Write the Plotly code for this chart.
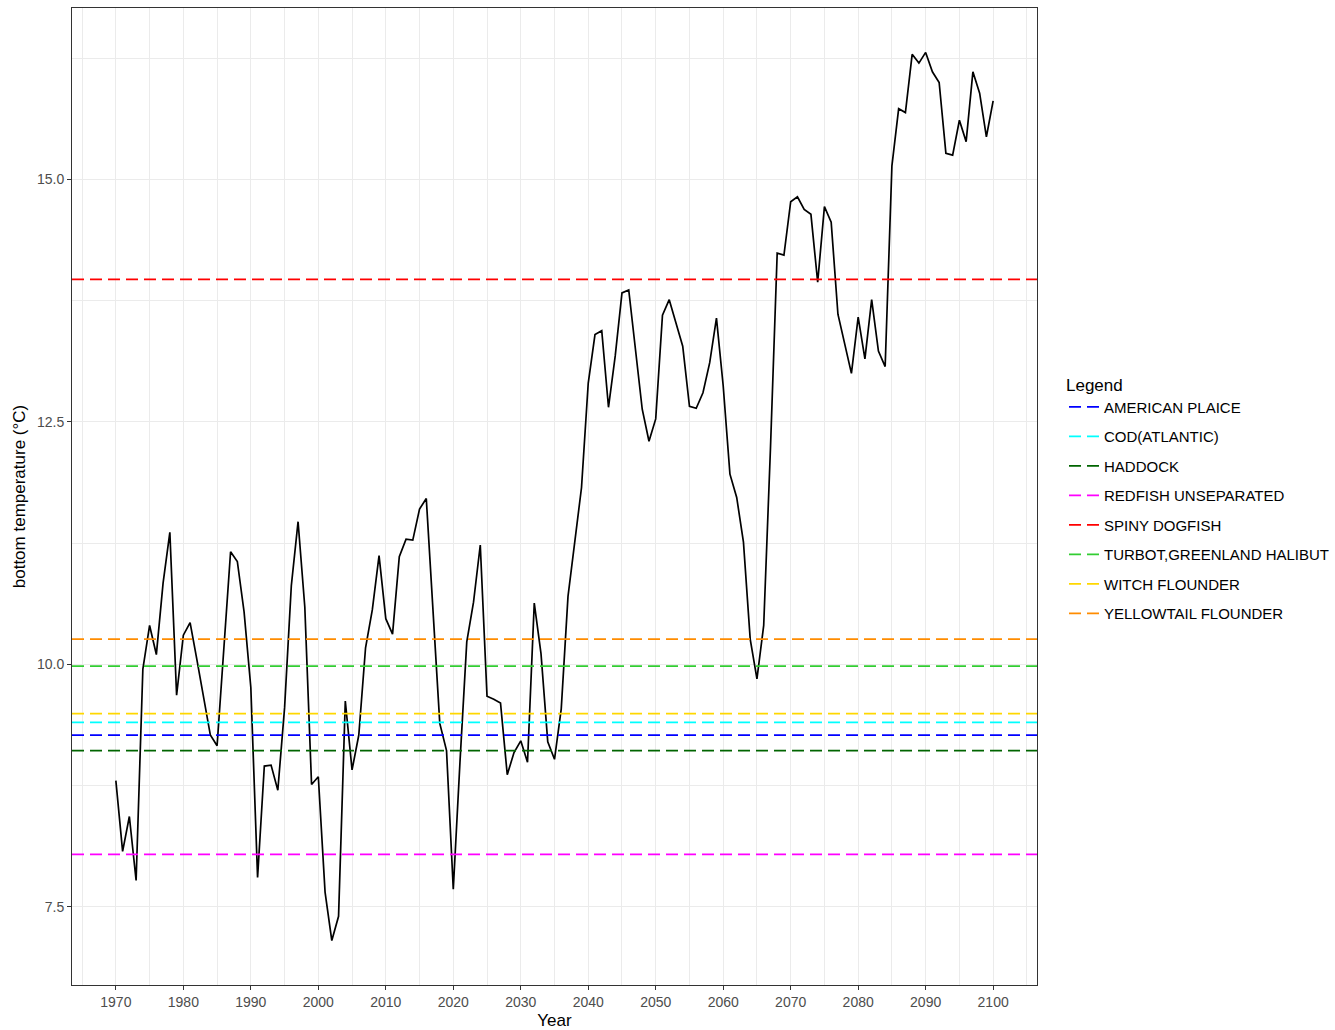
import plotly.graph_objects as go

# Annual mean bottom temperature, 1970-2100
years = list(range(1970, 2101))
bottom_temp = [
    8.80, 8.07, 8.43, 7.77, 9.95, 10.40, 10.10, 10.84, 11.36, 9.68,   # 1970s
    10.30, 10.43, 10.05, 9.66, 9.27, 9.16, 10.15, 11.16, 11.06, 10.54,  # 1980s
    9.76, 7.80, 8.95, 8.96, 8.70, 9.55, 10.81, 11.47, 10.59, 8.76,   # 1990s
    8.84, 7.65, 7.15, 7.40, 9.62, 8.91, 9.27, 10.17, 10.56, 11.12,   # 2000s
    10.47, 10.31, 11.11, 11.29, 11.28, 11.60, 11.71, 10.50, 9.39, 9.11,  # 2010s
    7.68, 9.00, 10.23, 10.64, 11.23, 9.67, 9.64, 9.60, 8.86, 9.09,   # 2020s
    9.21, 8.99, 10.63, 10.11, 9.20, 9.02, 9.54, 10.70, 11.29, 11.82,  # 2030s
    12.90, 13.40, 13.44, 12.65, 13.18, 13.83, 13.86, 13.25, 12.63, 12.30,  # 2040s
    12.53, 13.60, 13.76, 13.52, 13.28, 12.66, 12.64, 12.80, 13.11, 13.57,  # 2050s
    12.87, 11.96, 11.72, 11.26, 10.26, 9.85, 10.40, 12.22, 14.24, 14.22,  # 2060s
    14.77, 14.82, 14.69, 14.64, 13.94, 14.72, 14.56, 13.61, 13.32, 13.00,  # 2070s
    13.58, 13.15, 13.76, 13.23, 13.07, 15.14, 15.73, 15.69, 16.29, 16.20,  # 2080s
    16.31, 16.11, 16.00, 15.27, 15.25, 15.61, 15.39, 16.11, 15.89, 15.44,  # 2090s
    15.81,                                                               # 2100
]

# Preferred bottom temperature of each species (reference lines)
species = [
    "AMERICAN PLAICE", "COD(ATLANTIC)", "HADDOCK", "REDFISH UNSEPARATED",
    "SPINY DOGFISH", "TURBOT,GREENLAND HALIBUT", "WITCH FLOUNDER", "YELLOWTAIL FLOUNDER",
]
species_temp = [9.27, 9.40, 9.11, 8.04, 13.97, 9.98, 9.49, 10.26]
species_color = [
    "#0000FF", "#00FFFF", "#006400", "#FF00FF",
    "#FF0000", "#32CD32", "#FFD700", "#FF8C00",
]

# Axis limits with a 5% expansion on each side
x_lo, x_hi = min(years), max(years)
x_pad = 0.05 * (x_hi - x_lo)
x_range = [x_lo - x_pad, x_hi + x_pad]
all_y = bottom_temp + species_temp
y_lo, y_hi = min(all_y), max(all_y)
y_pad = 0.05 * (y_hi - y_lo)
y_range = [y_lo - y_pad, y_hi + y_pad]

FONT = "Liberation Sans, Arial, sans-serif"

fig = go.Figure()

fig.add_trace(go.Scatter(
    x=years, y=bottom_temp, mode="lines",
    line=dict(color="black", width=1.7),
    showlegend=False, hoverinfo="x+y",
))

for name, temp, color in zip(species, species_temp, species_color):
    fig.add_trace(go.Scatter(
        x=x_range, y=[temp, temp], mode="lines", name=name,
        legendgroup=name,
        line=dict(color=color, width=1.8, dash="12px,6px"),
    ))

grid = "#EBEBEB"
axis_common = dict(
    showline=True, mirror=True, linecolor="#333333", linewidth=1,
    ticks="outside", ticklen=4, tickwidth=1, tickcolor="#333333",
    tickfont=dict(family=FONT, size=14, color="#4D4D4D"),
    showgrid=True, gridcolor=grid, gridwidth=1,
    zeroline=False, automargin=False,
)

fig.update_xaxes(
    range=x_range, tick0=1970, dtick=10,
    minor=dict(dtick=5, tick0=1965, showgrid=True, gridcolor=grid, gridwidth=1, ticks=""),
    title=dict(text="Year", font=dict(family=FONT, size=17, color="black"), standoff=5),
    **axis_common,
)
fig.update_yaxes(
    range=y_range, tick0=0, dtick=2.5, tickformat=".1f",
    minor=dict(dtick=1.25, tick0=0, showgrid=True, gridcolor=grid, gridwidth=1, ticks=""),
    title=dict(text="bottom temperature (°C)", font=dict(family=FONT, size=17, color="black"), standoff=7),
    **axis_common,
)

fig.update_layout(
    width=1335, height=1030,
    margin=dict(l=72, r=298, t=8, b=45),
    paper_bgcolor="white", plot_bgcolor="white",
    font=dict(family=FONT, color="black"),
    legend=dict(
        title=dict(text="Legend", font=dict(family=FONT, size=17, color="black")),
        font=dict(family=FONT, size=15, color="black"),
        xref="container", yref="container",
        x=1064 / 1335, xanchor="left", y=0.515, yanchor="middle",
        tracegroupgap=7, bgcolor="rgba(0,0,0,0)",
    ),
)

fig.write_html("out.html")
